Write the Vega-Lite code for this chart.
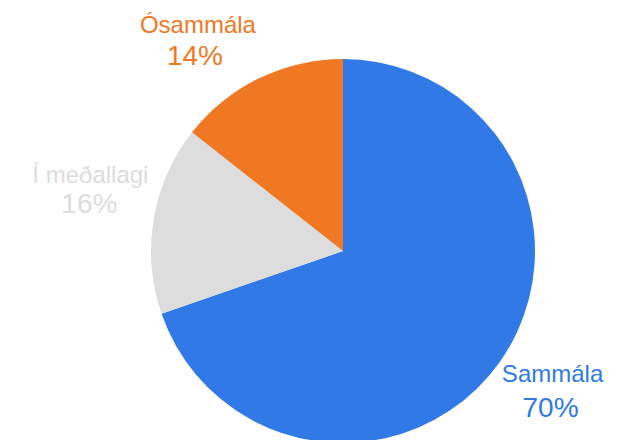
{
  "$schema": "https://vega.github.io/schema/vega-lite/v6.json",
  "width": 384,
  "height": 384,
  "autosize": {"type": "none"},
  "padding": {"left": 151, "top": 59, "right": 101, "bottom": 0},
  "background": "white",
  "view": {"stroke": null},
  "data": {
    "values": [
      {"label": "Sammála", "value": 69.7, "pct": "70%", "idx": 1},
      {"label": "Í meðallagi", "value": 15.9, "pct": "16%", "idx": 2},
      {"label": "Ósammála", "value": 14.4, "pct": "14%", "idx": 3}
    ]
  },
  "encoding": {
    "theta": {"field": "value", "type": "quantitative", "stack": true},
    "order": {"field": "idx", "type": "quantitative"},
    "color": {
      "field": "label",
      "type": "nominal",
      "scale": {
        "domain": ["Sammála", "Í meðallagi", "Ósammála"],
        "range": ["#3079E6", "#DDDDDD", "#F07823"]
      },
      "legend": null
    }
  },
  "layer": [
    {"mark": {"type": "arc"}},
    {
      "mark": {
        "type": "text",
        "radius": 245,
        "font": "Liberation Sans",
        "fontSize": 24,
        "align": "center",
        "baseline": "alphabetic",
        "dx": {"expr": "datum.label == 'Sammála' ? 10 : datum.label == 'Í meðallagi' ? -11 : -38"},
        "dy": {"expr": "datum.label == 'Sammála' ? -11 : datum.label == 'Í meðallagi' ? -27 : 2"}
      },
      "encoding": {"text": {"field": "label", "type": "nominal"}}
    },
    {
      "mark": {
        "type": "text",
        "radius": 245,
        "font": "Liberation Sans",
        "fontSize": 28,
        "align": "center",
        "baseline": "alphabetic",
        "dx": {"expr": "datum.label == 'Sammála' ? 8 : datum.label == 'Í meðallagi' ? -12 : -41"},
        "dy": {"expr": "datum.label == 'Sammála' ? 24 : datum.label == 'Í meðallagi' ? 3 : 34"}
      },
      "encoding": {"text": {"field": "pct", "type": "nominal"}}
    }
  ]
}
